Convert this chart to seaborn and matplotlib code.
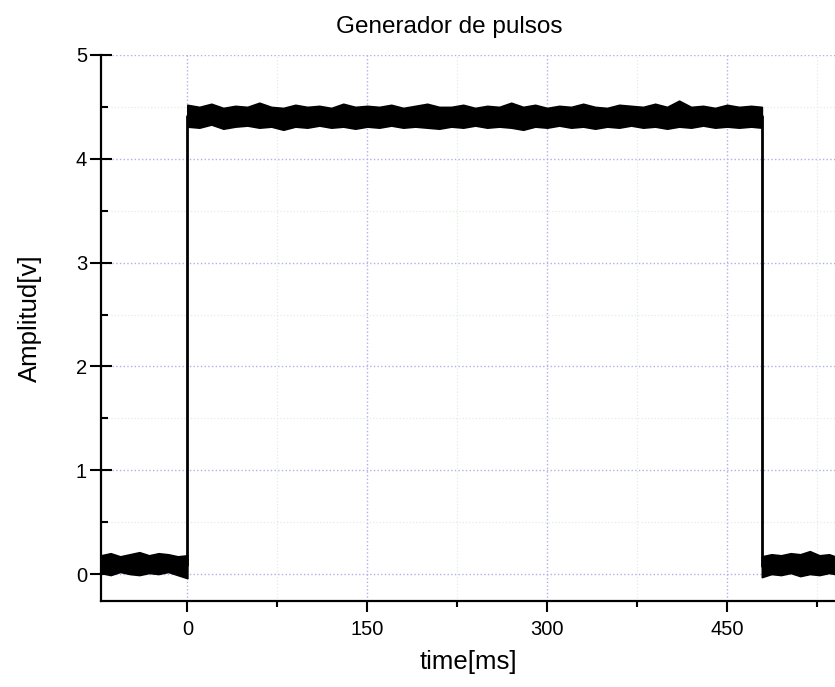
import numpy as np
import pandas as pd
import matplotlib
matplotlib.use("Agg")
import matplotlib.pyplot as plt
import seaborn as sns
from matplotlib.ticker import FixedLocator

# step trace (centre of the noisy signal)
trace_t = [-72, 0, 0, 479, 479, 540]
trace_v = [0.09, 0.09, 4.41, 4.41, 0.08, 0.08]

# noise envelope, high level
high_t = [0, 10, 20, 30, 40, 50, 60, 70, 80, 90,
          100, 110, 120, 130, 140, 150, 160, 170, 180, 190,
          200, 210, 220, 230, 240, 250, 260, 270, 280, 290,
          300, 310, 320, 330, 340, 350, 360, 370, 380, 390,
          400, 410, 420, 430, 440, 450, 460, 470, 479]
high_up = [4.52, 4.50, 4.53, 4.49, 4.51, 4.50, 4.54, 4.50, 4.49, 4.52,
           4.50, 4.51, 4.49, 4.53, 4.50, 4.51, 4.50, 4.52, 4.49, 4.51,
           4.53, 4.50, 4.50, 4.52, 4.49, 4.51, 4.50, 4.54, 4.50, 4.52,
           4.49, 4.51, 4.50, 4.53, 4.50, 4.49, 4.52, 4.51, 4.50, 4.53,
           4.50, 4.56, 4.50, 4.51, 4.49, 4.52, 4.50, 4.51, 4.50]
high_lo = [4.31, 4.30, 4.33, 4.29, 4.31, 4.32, 4.30, 4.31, 4.28, 4.31,
           4.30, 4.32, 4.30, 4.31, 4.29, 4.31, 4.30, 4.32, 4.30, 4.31,
           4.30, 4.29, 4.31, 4.30, 4.32, 4.30, 4.31, 4.30, 4.28, 4.31,
           4.30, 4.32, 4.30, 4.31, 4.29, 4.31, 4.30, 4.32, 4.30, 4.31,
           4.29, 4.31, 4.30, 4.32, 4.30, 4.31, 4.30, 4.31, 4.30]

# noise envelope, low level before and after the pulse
left_t = [-72, -64, -56, -48, -40, -32, -24, -16, -8, 0]
left_up = [0.18, 0.20, 0.17, 0.19, 0.21, 0.18, 0.20, 0.19, 0.17, 0.18]
left_lo = [0.01, -0.01, 0.02, 0.00, -0.01, 0.01, 0.00, 0.02, -0.01, -0.04]
right_t = [479, 487, 495, 503, 511, 519, 527, 535, 540]
right_up = [0.17, 0.19, 0.18, 0.20, 0.19, 0.22, 0.18, 0.19, 0.17]
right_lo = [-0.03, 0.00, -0.01, 0.01, -0.02, 0.00, -0.01, 0.01, 0.00]

x_ticks = [0, 150, 300, 450]
x_minor = [75, 225, 375, 525]
y_ticks = [0, 1, 2, 3, 4, 5]
y_minor = [0.5, 1.5, 2.5, 3.5, 4.5]

sns.set_style("ticks")
plt.rcParams["font.family"] = ["Liberation Sans", "DejaVu Sans"]
plt.rcParams["text.color"] = "black"
plt.rcParams["xtick.color"] = "black"
plt.rcParams["ytick.color"] = "black"

fig = plt.figure(figsize=(8.35, 6.87), dpi=100)
ax = fig.add_axes([101 / 835, 86 / 687, 734 / 835, 546 / 687])

df = pd.DataFrame({"t": trace_t, "v": trace_v})
sns.lineplot(data=df, x="t", y="v", sort=False, estimator=None, color="black", linewidth=2, ax=ax)

for t, up, lo in [(high_t, high_up, high_lo), (left_t, left_up, left_lo), (right_t, right_up, right_lo)]:
    ax.fill_between(t, lo, up, color="black", linewidth=1.2, edgecolor="black")

ax.set_xlim(-72, 540)
ax.set_ylim(-0.26, 5.0)
ax.set_xticks(x_ticks)
ax.set_yticks(y_ticks)
ax.xaxis.set_minor_locator(FixedLocator(x_minor))
ax.yaxis.set_minor_locator(FixedLocator(y_minor))

ax.grid(which="major", color="#b0b0ea", linestyle=":", linewidth=1)
ax.grid(which="minor", color="#e0efe0", linestyle=":", linewidth=0.9)
ax.set_axisbelow(True)

for s in ["top", "right"]:
    ax.spines[s].set_visible(False)
for s in ["left", "bottom"]:
    ax.spines[s].set_linewidth(1.6)
    ax.spines[s].set_color("black")

ax.tick_params(axis="y", which="major", direction="inout", length=16, width=1.5, labelsize=14.5, pad=2)
ax.tick_params(axis="y", which="minor", direction="in", length=5, width=1.5)
ax.tick_params(axis="x", which="major", direction="out", length=8, width=1.5, labelsize=14.5, pad=6)
ax.tick_params(axis="x", which="minor", direction="out", length=4, width=1.5)

ax.set_xlabel("")
ax.set_ylabel("")
fig.text(449 / 835, 1 - 27 / 687, "Generador de pulsos", ha="center", va="center", fontsize=17.5)
fig.text(468 / 835, 1 - 662 / 687, "time[ms]", ha="center", va="center", fontsize=18.5)
fig.text(30 / 835, 1 - 318 / 687, "Amplitud[v]", ha="center", va="center", fontsize=18.5, rotation=90)

fig.savefig("out.png", dpi=100)
